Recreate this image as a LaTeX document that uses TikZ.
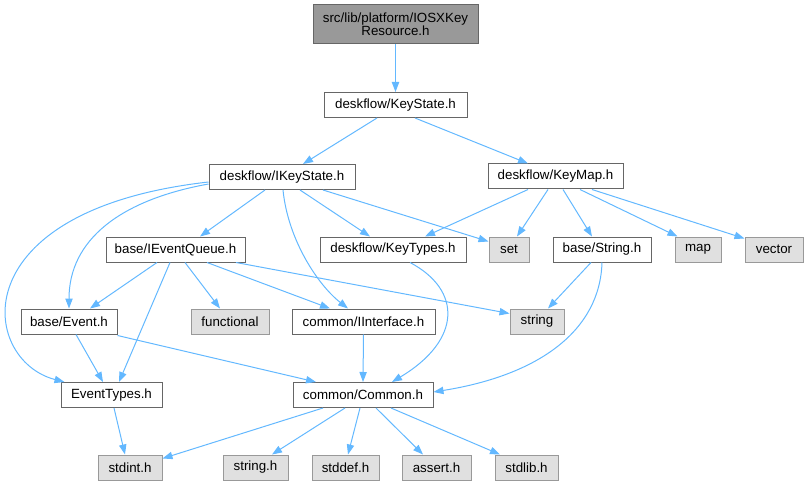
\documentclass[tikz,border=0pt]{standalone}
\usepackage{fontspec}
\setmainfont{Liberation Sans}
\usetikzlibrary{calc,arrows.meta}
\definecolor{edgec}{HTML}{63B8FF}
\definecolor{bdark}{HTML}{666666}
\definecolor{blight}{HTML}{999999}
\definecolor{fgray}{HTML}{E0E0E0}
\definecolor{ftop}{HTML}{999999}
\tikzset{
  base/.style={rectangle, inner sep=0pt, minimum height=18.75pt, line width=0.75pt, font=\fontsize{10}{10}\selectfont, text=black},
  wbox/.style={base, draw=bdark, fill=white},
  gbox/.style={base, draw=blight, fill=fgray},
  tbox/.style={base, draw=bdark, fill=ftop, align=center, minimum height=29.25pt},
  edge/.style={draw=edgec, line width=0.75pt, -{Triangle[length=7.5pt,width=5.5pt]}},
}
\begin{document}
\begin{tikzpicture}[x=0.75pt,y=-0.75pt]
\useasboundingbox (0,0) rectangle (808,485);
% nodes
\node[tbox, minimum width=123.75pt] (top) at (395.5,24.5) {src/lib/platform/IOSXKey\\Resource.h};
\node[wbox, minimum width=107.25pt] (ks) at (395.5,105) {deskflow/KeyState.h};
\node[wbox, minimum width=109.5pt] (iks) at (282,177) {deskflow/IKeyState.h};
\node[wbox, minimum width=101.25pt] (km) at (555.5,176.5) {deskflow/KeyMap.h};
\node[wbox, minimum width=104.25pt] (ieq) at (175.5,249.5) {base/IEventQueue.h};
\node[wbox, minimum width=109.5pt] (kt) at (393,249.5) {deskflow/KeyTypes.h};
\node[gbox, minimum width=30pt] (set) at (509,249.5) {set};
\node[wbox, minimum width=73.5pt] (str) at (602,249.5) {base/String.h};
\node[gbox, minimum width=34.5pt] (map) at (698,249.5) {map};
\node[gbox, minimum width=43.5pt] (vec) at (774,249.5) {vector};
\node[wbox, minimum width=72pt] (ev) at (69,321.5) {base/Event.h};
\node[gbox, minimum width=58.5pt] (fun) at (230,321.5) {functional};
\node[wbox, minimum width=107.25pt] (ii) at (363.5,321.5) {common/IInterface.h};
\node[gbox, minimum width=40.5pt] (string) at (537,321.5) {string};
\node[wbox, minimum width=75.75pt] (et) at (111.5,395) {EventTypes.h};
\node[wbox, minimum width=105pt] (cm) at (363,395) {common/Common.h};
\node[gbox, minimum width=48pt] (sti) at (130,467.5) {stdint.h};
\node[gbox, minimum width=48.75pt] (strh) at (255.5,467.5) {string.h};
\node[gbox, minimum width=50.25pt] (sdd) at (345.5,467.5) {stddef.h};
\node[gbox, minimum width=51.75pt] (ass) at (436.5,467.5) {assert.h};
\node[gbox, minimum width=47.25pt] (sdl) at (526.5,467.5) {stdlib.h};
% edges
\draw[edge] (top.south) -- (ks.north);
\draw[edge] ($(ks.south)+(-18.5,0)$) -- ($(iks.north)+(21,0)$);
\draw[edge] ($(ks.south)+(19.5,0)$) -- ($(km.north)+(-27.5,0)$);
\draw[edge] ($(iks.south)+(-17,0)$) -- ($(ieq.north)+(24.5,0)$);
\draw[edge] ($(iks.south)+(18,0)$) -- ($(kt.north)+(-23,0)$);
\draw[edge] ($(iks.south)+(41,0)$) -- ($(set.north west)+(0,5)$);
\draw[edge] ($(iks.south)+(1,0)$) .. controls (288,240) and (318,285) .. ($(ii.north)+(-15.5,0)$);
\draw[edge] ($(iks.west)+(0,7)$) .. controls (120,200) and (69,240) .. (ev.north);
\draw[edge] ($(iks.west)+(0,5)$) .. controls (-40,210) and (-20,360) .. ($(et.north)+(-47,0)$);
\draw[edge] ($(km.south)+(-27.5,0)$) -- ($(kt.north)+(32,0)$);
\draw[edge] ($(km.south)+(-7.5,0)$) -- ($(set.north)+(8,0)$);
\draw[edge] ($(km.south)+(7.5,0)$) -- ($(str.north)+(-10,0)$);
\draw[edge] ($(km.south)+(24.5,0)$) -- ($(map.north west)+(3,0)$);
\draw[edge] ($(km.south)+(36.5,0)$) -- ($(vec.north west)+(0,2)$);
\draw[edge] ($(ieq.south)+(-18.5,0)$) -- ($(ev.north)+(21,0)$);
\draw[edge] ($(ieq.south)+(-5.5,0)$) -- ($(et.north)+(7.5,0)$);
\draw[edge] ($(ieq.south)+(9.5,0)$) -- ($(fun.north)+(-10,0)$);
\draw[edge] ($(ieq.south)+(31.5,0)$) -- ($(ii.north)+(-33.5,0)$);
\draw[edge] ($(ieq.south)+(60.5,0)$) -- ($(string.north west)+(0,5)$);
\draw[edge] ($(str.south)+(-11,0)$) -- ($(string.north)+(11,0)$);
\draw[edge] (str.south) .. controls (600,330) and (540,375) .. ($(cm.east)+(0,-3)$);
\draw[edge] ($(kt.south)+(17,0)$) .. controls (462,290) and (462,340) .. ($(cm.north)+(29,0)$);
\draw[edge] ($(ev.south)+(7,0)$) -- ($(et.north)+(-8.5,0)$);
\draw[edge] ($(ev.south east)+(0,1)$) -- ($(cm.north)+(-47,0)$);
\draw[edge] (ii.south) -- (cm.north);
\draw[edge] ($(et.south)+(2.5,0)$) -- ($(sti.north)+(-5,0)$);
\draw[edge] ($(cm.south)+(-40,0)$) -- ($(sti.north east)+(0,4)$);
\draw[edge] ($(cm.south)+(-18,0)$) -- ($(strh.north)+(16.5,0)$);
\draw[edge] ($(cm.south)+(-3,0)$) -- ($(sdd.north)+(2.5,0)$);
\draw[edge] ($(cm.south)+(13,0)$) -- ($(ass.north)+(-13.5,0)$);
\draw[edge] ($(cm.south)+(28,0)$) -- ($(sdl.north)+(-26.5,0)$);
\end{tikzpicture}
\end{document}
